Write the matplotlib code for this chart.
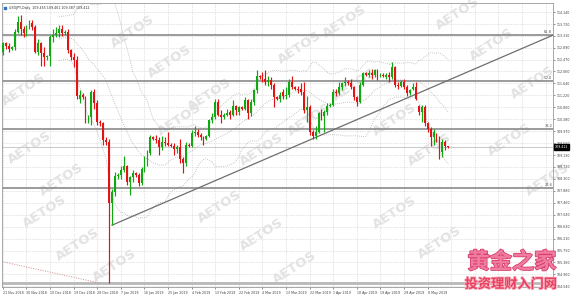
import numpy as np
import pandas as pd
import matplotlib
matplotlib.use("Agg")
import matplotlib.pyplot as plt
import matplotlib.patheffects as pe

# ==================== Дані (USDJPY, Daily) ====================
dates = pd.bdate_range("2018-11-21", periods=152, freq="C",
                       weekmask="Sun Mon Tue Wed Thu Fri")

opens = [112.75, 113.05, 112.95, 112.85, 112.90, 113.45, 113.80, 113.55, 113.40, 113.60,
         113.75, 113.60, 112.75, 113.05, 112.70, 112.55, 112.60, 113.25, 113.35, 113.40,
         113.55, 113.40, 113.45, 112.80, 112.55, 112.45, 111.10, 111.25, 111.15, 110.35,
         110.45, 111.35, 110.95, 110.30, 110.25, 109.65, 109.60, 107.45, 107.85, 108.40,
         108.45, 108.60, 108.75, 108.20, 108.35, 108.50, 108.45, 108.15, 108.65, 108.90,
         109.20, 109.75, 109.70, 109.65, 109.40, 109.60, 109.55, 109.50, 109.45, 109.35,
         109.40, 109.00, 108.85, 109.50, 109.45, 109.90, 109.95, 109.85, 109.75, 109.70,
         109.80, 110.35, 110.45, 111.00, 110.55, 110.45, 110.55, 110.65, 110.55, 110.85,
         110.65, 110.80, 110.75, 111.05, 110.60, 111.00, 111.40, 111.90, 111.85, 111.80,
         111.70, 111.75, 111.60, 111.15, 111.10, 111.35, 111.20, 111.25, 111.70, 111.50,
         111.45, 111.45, 111.35, 110.70, 110.80, 109.95, 109.80, 109.95, 110.60, 110.50,
         110.65, 110.85, 110.90, 111.35, 111.30, 111.50, 111.65, 111.70, 111.65, 111.50,
         111.15, 111.00, 111.60, 112.00, 111.95, 112.00, 111.95, 112.10, 111.90, 111.95,
         111.85, 111.95, 111.85, 112.20, 111.60, 111.55, 111.70, 111.50, 111.30, 111.45,
         111.50, 110.85, 110.65, 110.80, 110.25, 110.05, 109.75, 109.85, 109.70, 109.25,
         109.60, 109.455]
highs = [113.10, 113.10, 113.05, 112.95, 113.55, 114.00, 114.05, 113.65, 113.70, 113.85,
         113.85, 113.70, 113.20, 113.10, 112.90, 112.65, 113.35, 113.55, 113.60, 113.70,
         113.70, 113.50, 113.55, 112.85, 112.70, 112.60, 111.40, 111.30, 111.20, 110.55,
         111.40, 111.45, 111.05, 110.35, 110.30, 109.75, 109.70, 107.95, 108.55, 108.50,
         108.75, 109.10, 108.80, 108.40, 108.60, 108.55, 108.50, 108.70, 109.10, 109.30,
         109.85, 109.80, 109.85, 109.75, 109.80, 109.75, 109.95, 109.55, 109.55, 109.50,
         109.70, 109.05, 109.60, 109.55, 110.00, 110.15, 110.05, 109.90, 109.80, 109.85,
         110.40, 110.60, 111.10, 111.10, 110.70, 110.60, 110.75, 110.70, 111.05, 110.90,
         110.85, 110.85, 111.15, 111.10, 111.10, 111.45, 112.10, 111.95, 112.05, 112.10,
         111.90, 111.85, 111.65, 111.20, 111.35, 111.45, 111.50, 111.80, 111.90, 111.55,
         111.55, 111.65, 111.70, 111.20, 110.90, 110.00, 110.15, 110.65, 110.75, 110.70,
         110.95, 110.95, 111.45, 111.45, 111.70, 111.70, 111.85, 111.75, 111.80, 111.55,
         111.20, 111.70, 112.05, 112.05, 112.10, 112.15, 112.15, 112.15, 112.00, 112.00,
         112.00, 112.05, 112.40, 112.25, 111.70, 111.75, 111.80, 111.60, 111.45, 111.65,
         111.70, 110.90, 110.90, 110.90, 110.30, 110.10, 110.05, 109.90, 109.80, 109.70,
         109.65, 109.461]
lows = [112.65, 112.85, 112.75, 112.80, 112.80, 113.40, 113.35, 113.25, 113.30, 113.55,
        113.50, 112.70, 112.65, 112.25, 112.25, 112.45, 112.25, 113.10, 113.25, 113.25,
        113.30, 113.35, 112.70, 112.45, 112.20, 111.10, 110.95, 111.10, 110.25, 110.25,
        110.20, 110.75, 110.20, 110.15, 109.50, 109.50, 104.65, 106.68, 107.70, 108.30,
        108.30, 108.55, 108.10, 107.75, 108.20, 108.35, 108.05, 108.10, 108.55, 108.75,
        109.15, 109.65, 109.55, 109.15, 109.30, 109.45, 109.45, 109.40, 109.15, 109.20,
        108.85, 108.50, 108.75, 109.40, 109.40, 109.80, 109.75, 109.65, 109.50, 109.65,
        109.75, 110.25, 110.40, 110.50, 110.25, 110.40, 110.50, 110.40, 110.50, 110.55,
        110.55, 110.70, 110.70, 110.40, 110.50, 110.90, 111.30, 111.80, 111.70, 111.60,
        111.55, 111.45, 110.80, 111.05, 111.00, 111.10, 111.10, 111.15, 111.45, 111.40,
        111.30, 111.25, 110.60, 110.30, 109.85, 109.70, 109.70, 109.90, 110.35, 109.95,
        110.55, 110.80, 110.85, 111.20, 111.25, 111.40, 111.55, 111.60, 111.45, 111.05,
        110.85, 110.95, 111.55, 111.90, 111.85, 111.80, 111.85, 111.75, 111.85, 111.85,
        111.80, 111.70, 111.80, 111.50, 111.45, 111.50, 111.45, 111.20, 111.25, 111.40,
        111.05, 110.55, 110.30, 110.15, 109.95, 109.45, 109.50, 109.60, 109.00, 109.05,
        109.30, 109.387]
closes = [113.05, 112.95, 112.85, 112.90, 113.45, 113.80, 113.55, 113.40, 113.55, 113.75,
          113.60, 112.75, 113.05, 112.70, 112.55, 112.60, 113.25, 113.35, 113.40, 113.55,
          113.40, 113.45, 112.80, 112.55, 112.45, 111.20, 111.25, 111.15, 110.35, 110.45,
          111.35, 110.95, 110.30, 110.25, 109.65, 109.60, 107.45, 107.85, 108.40, 108.45,
          108.60, 108.75, 108.20, 108.35, 108.50, 108.45, 108.15, 108.65, 108.90, 109.20,
          109.75, 109.70, 109.65, 109.40, 109.60, 109.55, 109.50, 109.45, 109.35, 109.40,
          109.00, 108.85, 109.50, 109.45, 109.90, 109.95, 109.85, 109.75, 109.70, 109.80,
          110.35, 110.45, 111.00, 110.55, 110.45, 110.55, 110.60, 110.55, 110.85, 110.70,
          110.80, 110.75, 111.05, 110.60, 111.00, 111.40, 111.90, 111.85, 111.80, 111.70,
          111.75, 111.60, 111.15, 111.10, 111.25, 111.20, 111.25, 111.70, 111.50, 111.45,
          111.40, 111.35, 110.70, 110.80, 109.95, 109.80, 109.95, 110.60, 110.50, 110.65,
          110.85, 110.90, 111.35, 111.30, 111.50, 111.65, 111.70, 111.65, 111.50, 111.15,
          111.00, 111.60, 112.00, 111.95, 112.00, 111.95, 112.10, 111.90, 111.95, 111.90,
          111.95, 111.85, 112.20, 111.60, 111.55, 111.70, 111.50, 111.30, 111.40, 111.50,
          111.10, 110.65, 110.80, 110.25, 110.05, 109.75, 109.95, 109.70, 109.25, 109.60,
          109.45, 109.412]

# рівні Фібоначчі (ціна) та їх підписи
fib_levels = [113.33, 111.72, 110.05, 107.98, 104.65]
fib_names = ["61.8", "50.0", "38.2", "23.6", "0.0"]
# опорні точки трендової лінії (бар, ціна)
trend_pts = [(37, 106.68), (186.5, 113.33)]
# пунктирна базова лінія Фібоначчі (бар, ціна)
fib_base = [(-1, 105.42), (33, 104.65)]

y_ticks = [114.140, 113.720, 113.310, 112.890, 112.470, 112.060, 111.640, 111.220,
           110.800, 110.380, 109.970, 109.550, 109.130, 108.720, 108.300, 107.880,
           107.460, 107.040, 106.630, 106.210, 105.790, 105.380, 104.960, 104.540]
title_text = "USDJPY,Daily  109.455 109.461 109.387 109.412"

# ==================== Побудова ====================
W, H = 580, 296
fig = plt.figure(figsize=(W / 100, H / 100), dpi=100)
fig.patch.set_facecolor("white")
ax = fig.add_axes([2 / W, 9 / H, 551 / W, 284 / H])

n = len(closes)
x = np.arange(n)
o = np.array(opens); h = np.array(highs); l = np.array(lows); c = np.array(closes)

ax.set_xlim(-0.3, 186.5)
ax.set_ylim(104.515, 114.455)

# сітка
for yt in y_ticks:
    ax.axhline(yt, color="#c9c9c9", lw=0.5, ls=(0, (1, 1.5)), zorder=0)
for xt in range(0, 187, 8):
    ax.axvline(xt, color="#c9c9c9", lw=0.5, ls=(0, (1, 1.5)), zorder=0)

# водяні знаки AETOS (позиції в пікселях картинки)
wm = [(133, 32), (170, 62), (210, 95), (300, 48), (345, 22), (458, 14), (492, 45), (533, 83),
      (24, 90), (180, 120), (30, 148), (62, 180), (45, 212), (78, 245), (115, 266),
      (220, 207), (262, 235), (295, 268), (262, 150), (310, 120), (395, 120), (430, 150),
      (395, 213), (440, 243), (510, 140), (548, 180), (355, 85)]
for px, py in wm:
    ax.text((px - 2) / 551, 1 - (py - 3) / 284, "AETOS", transform=ax.transAxes,
            rotation=33, fontsize=9.5, fontweight="bold", color="#e2e2e2",
            ha="center", va="center", zorder=0.5)

# Bollinger Bands (20, 2)
cs = pd.Series(closes)
mid = cs.rolling(20).mean()
sd = cs.rolling(20).std(ddof=0)
for band in (mid, mid + 2 * sd, mid - 2 * sd):
    ax.plot(x, band, color="#b4b4b4", lw=0.6, ls=(0, (1, 1.5)), zorder=1)

# рівні Фібоначчі
for lvl, name in zip(fib_levels, fib_names):
    lc = "#b8b8b8" if name == "0.0" else "#8a8a8a"
    lw = 2.0 if name == "0.0" else 1.2
    ax.axhline(lvl, color=lc, lw=lw, zorder=2)
    ax.text(186.2, lvl + 0.04, name, fontsize=2.6, color="#505050",
            ha="right", va="bottom", zorder=3)
ax.plot([p[0] for p in fib_base], [p[1] for p in fib_base],
        color="#d08a8a", lw=0.7, ls=(0, (1, 1.5)), zorder=2)

# лінія поточної ціни
ax.axhline(closes[-1], color="#c0c0c0", lw=0.6, zorder=1.5)

# трендова лінія
ax.plot([p[0] for p in trend_pts], [p[1] for p in trend_pts],
        color="#6e6e6e", lw=0.9, zorder=2.5)

# свічки
up = c >= o
col = np.where(up, "#10a810", "#e01414")
ax.vlines(x, l, h, colors=col, lw=0.85, zorder=3)
body = np.maximum(np.abs(c - o), 0.025)
ax.bar(x, body, bottom=np.minimum(o, c), width=0.62, color=col, lw=0, zorder=4)

# осі
for s in ax.spines.values():
    s.set_color("#9a9a9a")
    s.set_linewidth(0.6)
ax.yaxis.tick_right()
ax.set_yticks(y_ticks)
ax.set_yticklabels([f"{v:.3f}" for v in y_ticks])
ax.tick_params(axis="y", labelsize=2.3, length=1.5, width=0.4, pad=1.5,
               colors="#404040")
xt = list(range(0, n, 8))
ax.set_xticks(xt)
ax.set_xticklabels([f"{d.day} {d.strftime('%b %Y')}" for d in dates[xt]], ha="left")
ax.tick_params(axis="x", labelsize=2.3, length=1.5, width=0.4, pad=1.5,
               colors="#404040")

# заголовок
ax.text(0.012, 0.983, title_text, transform=ax.transAxes, fontsize=2.3,
        color="#303030", ha="left", va="center", zorder=6)
ax.plot([0.006], [0.983], marker="s", ms=1.5, color="#3070c0",
        transform=ax.transAxes, zorder=6)

# мітка поточної ціни
ax.text(1.003, closes[-1], f"{closes[-1]:.3f}", transform=ax.get_yaxis_transform(),
        fontsize=2.3, color="white", ha="left", va="center", zorder=7,
        bbox=dict(boxstyle="square,pad=0.25", fc="black", ec="black"), clip_on=False)

# китайський водяний знак
fig.text(512 / W, 1 - 262 / H, "黄金之家", fontsize=16, fontweight="bold",
         family=["Noto Sans CJK SC", "DejaVu Sans"], color="#f07aa0",
         ha="center", va="center",
         path_effects=[pe.withStroke(linewidth=1.2, foreground="#d8406c")])
fig.text(511 / W, 1 - 284 / H, "投资理财入门网", fontsize=9.5, fontweight="bold",
         family=["Noto Sans CJK SC", "DejaVu Sans"], color="#e8405e",
         ha="center", va="center",
         path_effects=[pe.withStroke(linewidth=1.2, foreground="#f7b0c0")])

fig.savefig("out.png", dpi=100)
